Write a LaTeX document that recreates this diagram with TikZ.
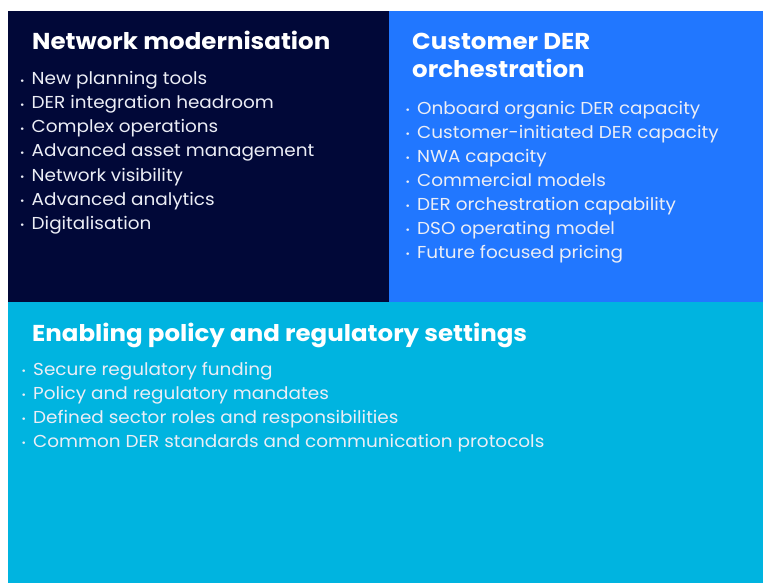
\documentclass[tikz,border=0pt]{standalone}
\usepackage{fontspec}
\setmainfont{Poppins}[FakeStretch=1.065]
\definecolor{navy}{RGB}{1,8,56}
\definecolor{brightblue}{RGB}{33,119,255}
\definecolor{skycyan}{RGB}{0,180,224}
\definecolor{itemtext}{RGB}{236,238,246}
\newcommand{\itemdot}{\makebox[11.5pt][l]{\fontsize{10}{10}\selectfont\raisebox{0.8pt}{•}}}
\begin{document}
\begin{tikzpicture}[x=1pt,y=-1pt,
  heading/.style={anchor=base west,inner sep=0pt,text=white,
    font=\fontsize{23}{28.4}\selectfont\bfseries},
  listitem/.style={anchor=base west,inner sep=0pt,text=itemtext,
    font=\fontsize{17.3}{24}\selectfont}]
  \useasboundingbox (0,0) rectangle (763,583);
  % three coloured panels
  \fill[navy] (7.5,11) rectangle (389,302);
  \fill[brightblue] (389,11) rectangle (763,302);
  \fill[skycyan] (7.5,302) rectangle (763,583);

  % network modernisation
  \node[heading] (nmtitle) at (32,49.3) {Network modernisation};
  \foreach \txt [count=\i from 0] in {New planning tools,DER integration headroom,
      Complex operations,Advanced asset management,Network visibility,
      Advanced analytics,Digitalisation}
    \node[listitem] (nm\i) at (20,85+24*\i) {\itemdot\txt};

  % customer DER orchestration
  \node[heading] (cdtitle1) at (412,49.3) {Customer DER};
  \node[heading] (cdtitle2) at (412,77.7) {orchestration};
  \foreach \txt [count=\i from 0] in {Onboard organic DER capacity,
      Customer-initiated DER capacity,NWA capacity,Commercial models,
      DER orchestration capability,DSO operating model,Future focused pricing}
    \node[listitem] (cd\i) at (405.5,114.3+24*\i) {\itemdot\txt};

  % enabling policy and regulatory settings
  \node[heading] (eptitle) at (32,341.7) {Enabling policy and regulatory settings};
  \foreach \txt [count=\i from 0] in {Secure regulatory funding,
      Policy and regulatory mandates,Defined sector roles and responsibilities,
      Common DER standards and communication protocols}
    \node[listitem] (ep\i) at (21.5,375+24*\i) {\itemdot\txt};
\end{tikzpicture}
\end{document}
